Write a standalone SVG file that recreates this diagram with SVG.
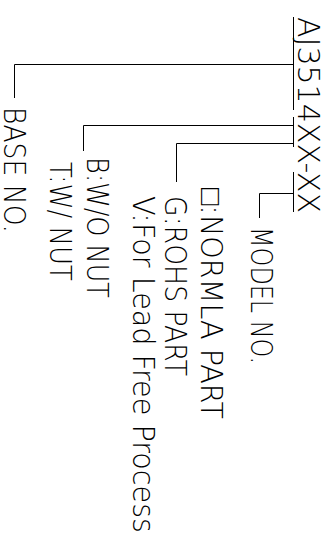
<svg xmlns="http://www.w3.org/2000/svg" width="330" height="544" viewBox="0 0 330 544">
<style>
.t{font-family:"DejaVu Sans","Liberation Sans",sans-serif;font-weight:200;font-size:30px;fill:#000}
.c{stroke:#000;stroke-width:1;fill:none}
</style>
<rect width="330" height="544" fill="#fff"/>
<g id="connectors" class="c">
<path d="M293.5 17V110M293.5 117V147M293.5 172V212"/>
<path d="M293 64.5H14.5V98"/>
<path d="M293 125.5H83.5V151"/>
<path d="M293 143.5H176.5V182"/>
<path d="M293 193.5H259.5V218"/>
</g>
<g id="part-number"><text class="t" transform="translate(298,17) rotate(90)" textLength="196" lengthAdjust="spacingAndGlyphs">AJ3514XX-XX</text></g>
<g id="model-no"><text class="t" transform="translate(251,227) rotate(90)" textLength="137" lengthAdjust="spacingAndGlyphs">MODEL NO.</text></g>
<g id="normal-part"><text class="t" transform="translate(201,188) rotate(90)" textLength="231" lengthAdjust="spacingAndGlyphs">□:NORMLA PART</text></g>
<g id="rohs-part"><text class="t" transform="translate(165,196) rotate(90)" textLength="180" lengthAdjust="spacingAndGlyphs">G:ROHS PART</text></g>
<g id="lead-free"><text class="t" transform="translate(133,196) rotate(90)" textLength="337" lengthAdjust="spacingAndGlyphs">V:For Lead Free Process</text></g>
<g id="wo-nut"><text class="t" transform="translate(87,157) rotate(90)" textLength="141" lengthAdjust="spacingAndGlyphs">B:W/O NUT</text></g>
<g id="w-nut"><text class="t" transform="translate(50,162) rotate(90)" textLength="119" lengthAdjust="spacingAndGlyphs">T:W/ NUT</text></g>
<g id="base-no"><text class="t" transform="translate(4,107) rotate(90)" textLength="126" lengthAdjust="spacingAndGlyphs">BASE NO.</text></g>
</svg>
